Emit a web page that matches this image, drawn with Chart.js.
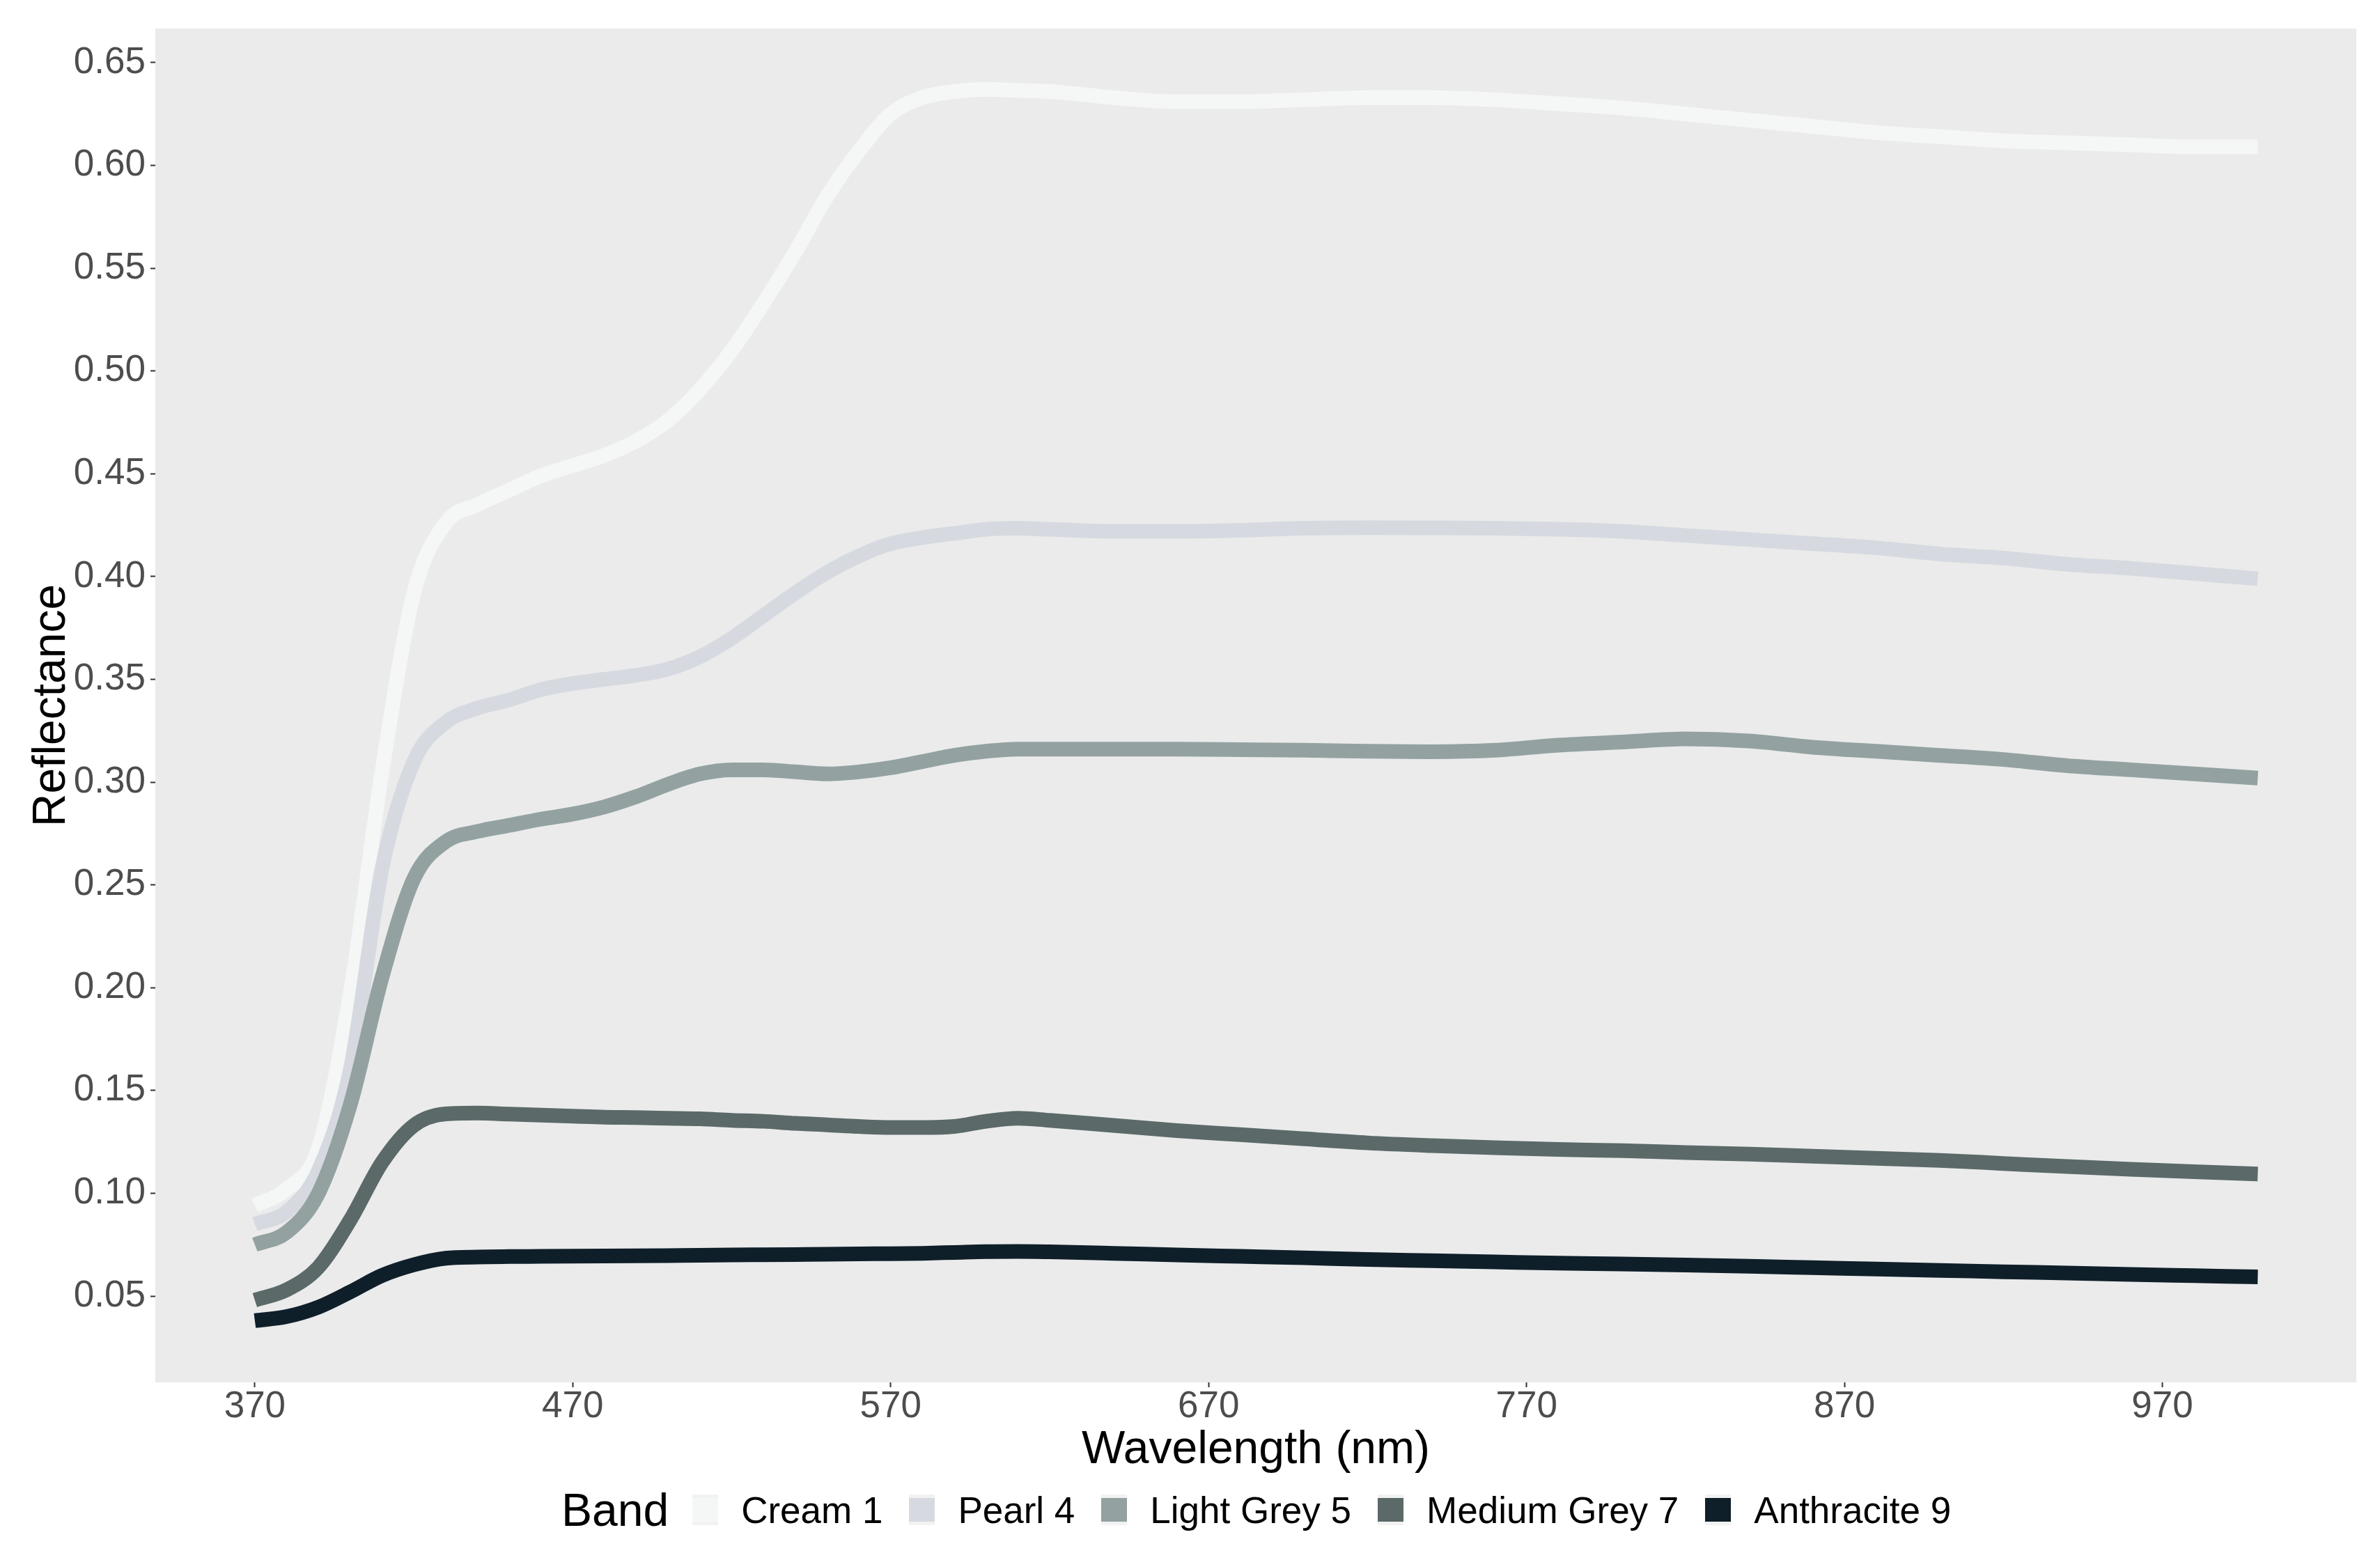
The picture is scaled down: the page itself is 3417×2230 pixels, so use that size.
<!DOCTYPE html>
<html>
<head>
<meta charset="utf-8">
<title>Reflectance by band</title>
<script src="https://cdn.jsdelivr.net/npm/chart.js@4.4.1/dist/chart.umd.min.js"></script>
<style>
  body { margin: 0; background: #ffffff; }
  #wrap { position: relative; width: 3417px; height: 2230px; }
  #chart { position: absolute; left: 0; top: 0; }
  #legend {
    position: absolute; left: 806px; top: 2138px; height: 60px;
    display: flex; align-items: center;
    font-family: "Liberation Sans", Arial, sans-serif; color: #000;
  }
  #legend .title { font-size: 66px; margin-right: 34px; }
  #legend .key {
    width: 37px; height: 44px; background: #f2f2f2;
    display: flex; align-items: center; margin-right: 33px;
  }
  #legend .key span { display: block; width: 100%; height: 34px; }
  #legend .label { font-size: 53px; margin-right: 38px; }
</style>
</head>
<body>
<div id="wrap">
  <canvas id="chart" width="3417" height="2230"></canvas>
  <div id="legend"></div>
</div>
<script>

// wavelengths (nm)
var wavelength = [370, 380, 390, 400, 410, 420, 430, 440, 450, 460, 470, 480, 490, 500,
  510, 520, 530, 540, 550, 560, 570, 580, 590, 600, 610, 620,
  640, 660, 680, 700, 720, 740, 760, 780, 800, 820, 840, 860, 880, 900, 920, 940, 960, 980, 1000];

var cream1 = [0.094, 0.102, 0.122, 0.197, 0.305, 0.392, 0.426, 0.435, 0.442, 0.449, 0.454, 0.459, 0.466, 0.476,
  0.491, 0.510, 0.533, 0.558, 0.585, 0.607, 0.625, 0.633, 0.636, 0.637, 0.6365, 0.636,
  0.633, 0.631, 0.631, 0.632, 0.633, 0.633, 0.632, 0.630, 0.628, 0.625, 0.622, 0.619, 0.616, 0.614, 0.612, 0.611, 0.610, 0.609, 0.609];

var pearl4 = [0.085, 0.091, 0.111, 0.160, 0.258, 0.310, 0.329, 0.336, 0.340, 0.345, 0.348, 0.350, 0.352, 0.355,
  0.361, 0.370, 0.381, 0.392, 0.402, 0.410, 0.416, 0.419, 0.421, 0.423, 0.4235, 0.423,
  0.422, 0.422, 0.4225, 0.4235, 0.4238, 0.4237, 0.4235, 0.423, 0.422, 0.420, 0.418, 0.416, 0.414, 0.411, 0.409, 0.406, 0.404, 0.4015, 0.399];

var lightGrey5 = [0.075, 0.081, 0.100, 0.143, 0.205, 0.253, 0.271, 0.276, 0.279, 0.282, 0.2845, 0.288, 0.293, 0.299,
  0.304, 0.306, 0.306, 0.305, 0.304, 0.305, 0.307, 0.310, 0.313, 0.315, 0.316, 0.316,
  0.316, 0.316, 0.3158, 0.3155, 0.315, 0.3148, 0.3155, 0.318, 0.3195, 0.321, 0.320, 0.317, 0.315, 0.313, 0.311, 0.308, 0.306, 0.304, 0.302];

var mediumGrey7 = [0.048, 0.053, 0.064, 0.087, 0.115, 0.133, 0.1386, 0.139, 0.1385, 0.138, 0.1375, 0.137, 0.1368, 0.1365,
  0.1362, 0.1355, 0.135, 0.134, 0.1333, 0.1325, 0.132, 0.132, 0.1325, 0.135, 0.1365, 0.1355,
  0.133, 0.1305, 0.1285, 0.1265, 0.1245, 0.1232, 0.1222, 0.1213, 0.1207, 0.1198, 0.119, 0.118, 0.117, 0.116, 0.1145, 0.113, 0.1117, 0.1105, 0.1094];

var anthracite9 = [0.038, 0.040, 0.0446, 0.052, 0.060, 0.0652, 0.0684, 0.069, 0.0692, 0.0693, 0.0694, 0.0695, 0.0696, 0.0697,
  0.0698, 0.0700, 0.0701, 0.0702, 0.0703, 0.0705, 0.0706, 0.0708, 0.0712, 0.0716, 0.0717, 0.0715,
  0.0708, 0.0700, 0.0693, 0.0686, 0.0678, 0.0672, 0.0666, 0.0660, 0.0656, 0.0651, 0.0645, 0.0638, 0.0631, 0.0625, 0.0618, 0.0612, 0.0605, 0.0599, 0.0593];

var bandNames = ["Cream 1", "Pearl 4", "Light Grey 5", "Medium Grey 7", "Anthracite 9"];
var bandColors = ["#f5f7f6", "#d6dae0", "#93a1a1", "#5b6969", "#0f1f2a"];
var bandValues = [cream1, pearl4, lightGrey5, mediumGrey7, anthracite9];

var xTicks = [370, 470, 570, 670, 770, 870, 970];
var yTicks = [0.05, 0.10, 0.15, 0.20, 0.25, 0.30, 0.35, 0.40, 0.45, 0.50, 0.55, 0.60, 0.65];

var fontFamily = '"Liberation Sans", Arial, sans-serif';

// grey panel behind the lines, like ggplot
var panelBackground = {
  id: 'panelBackground',
  beforeDraw: function(chart) {
    var ctx = chart.ctx;
    var a = chart.chartArea;
    ctx.save();
    ctx.fillStyle = '#ebebeb';
    ctx.fillRect(a.left, a.top, a.right - a.left, a.bottom - a.top);
    ctx.restore();
  }
};

function buildDatasets() {

  var sets = [];

  for (var i = 0; i < bandNames.length; i++) {

    var points = [];
    for (var j = 0; j < wavelength.length; j++) {
      points.push({ x: wavelength[j], y: bandValues[i][j] });
    }

    sets.push({
      label: bandNames[i],
      data: points,
      borderColor: bandColors[i],
      backgroundColor: bandColors[i],
      borderWidth: 21,
      pointRadius: 0,
      fill: false,
      cubicInterpolationMode: 'monotone',
      order: bandNames.length - i
    });
  }

  return sets;
}

function printLegend() {

  var legend = document.getElementById('legend');

  var title = document.createElement('span');
  title.className = 'title';
  title.textContent = 'Band';
  legend.appendChild(title);

  for (var i = 0; i < bandNames.length; i++) {

    var key = document.createElement('div');
    key.className = 'key';
    var line = document.createElement('span');
    line.style.background = bandColors[i];
    key.appendChild(line);
    legend.appendChild(key);

    var label = document.createElement('span');
    label.className = 'label';
    label.textContent = bandNames[i];
    legend.appendChild(label);
  }
}

function printLineChart() {

  Chart.defaults.font.family = fontFamily;

  var ctx = document.getElementById('chart').getContext('2d');
  var chart = new Chart(ctx, {

    type: 'line',

    data: {
      datasets: buildDatasets()
    },

    options: {
      responsive: false,
      animation: false,
      devicePixelRatio: 1,
      layout: {
        padding: { top: 41, right: 34, bottom: 114, left: 0 }
      },
      plugins: {
        legend: { display: false },
        tooltip: { enabled: false }
      },
      scales: {
        x: {
          type: 'linear',
          min: 338.7,
          max: 1031,
          afterBuildTicks: function(scale) {
            scale.ticks = xTicks.map(function(v) { return { value: v }; });
          },
          afterFit: function(scale) {
            scale.height = 131;
          },
          grid: {
            drawOnChartArea: false,
            drawTicks: true,
            tickLength: 7,
            tickColor: '#333333',
            tickWidth: 2
          },
          border: { display: false },
          ticks: {
            color: '#4d4d4d',
            padding: 2,
            maxRotation: 0,
            autoSkip: false,
            font: { size: 53, lineHeight: 1 },
            callback: function(value) { return String(value); }
          },
          title: {
            display: true,
            text: 'Wavelength (nm)',
            color: '#000000',
            font: { size: 66, lineHeight: 1 },
            padding: { top: 0, bottom: 0 }
          }
        },
        y: {
          type: 'linear',
          min: 0.008,
          max: 0.6666,
          afterBuildTicks: function(scale) {
            scale.ticks = yTicks.map(function(v) { return { value: v }; });
          },
          afterFit: function(scale) {
            scale.width = 223;
          },
          grid: {
            drawOnChartArea: false,
            drawTicks: true,
            tickLength: 7,
            tickColor: '#333333',
            tickWidth: 2
          },
          border: { display: false },
          ticks: {
            color: '#4d4d4d',
            padding: 7,
            autoSkip: false,
            font: { size: 53, lineHeight: 1 },
            callback: function(value) { return value.toFixed(2); }
          },
          title: {
            display: true,
            text: 'Reflectance',
            color: '#000000',
            font: { size: 66, lineHeight: 1 },
            padding: { top: 42, bottom: 0 }
          }
        }
      }
    },

    plugins: [panelBackground]
  });
}

printLineChart();
printLegend();

</script>
</body>
</html>
